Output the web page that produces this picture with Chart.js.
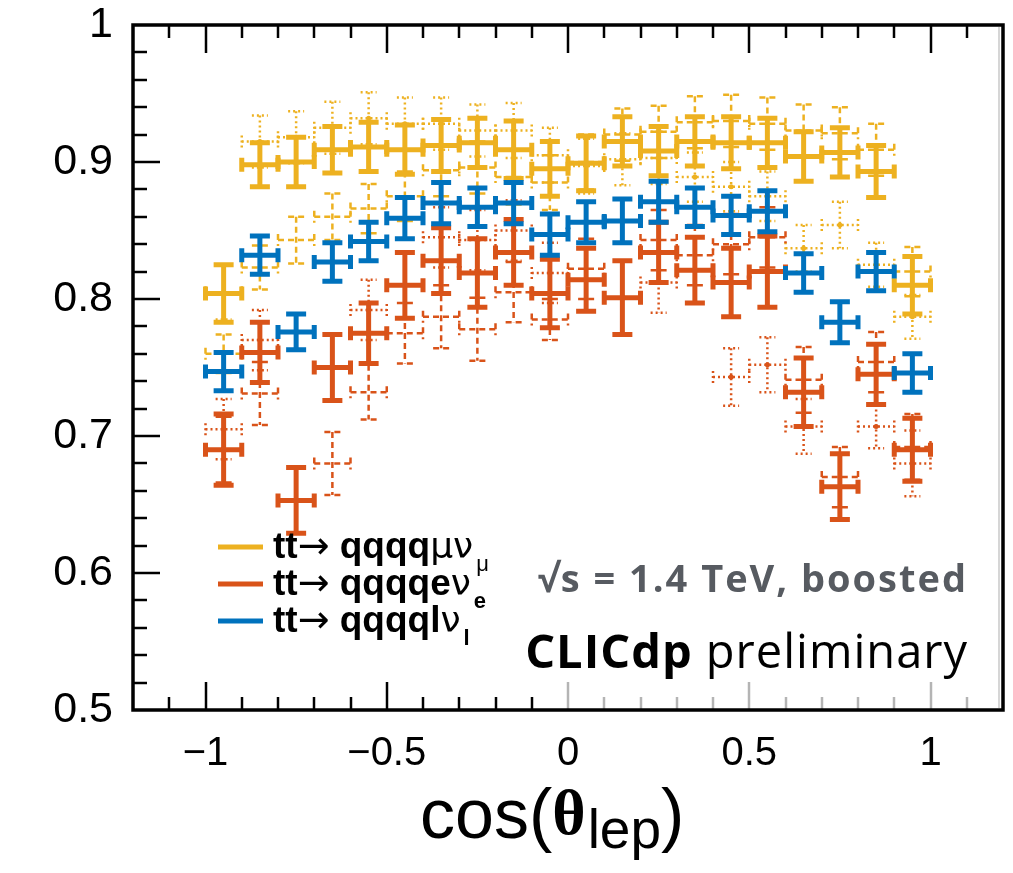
<!DOCTYPE html>
<html>
<head>
<meta charset="utf-8">
<script src="https://cdn.jsdelivr.net/npm/chart.js@4.4.1/dist/chart.umd.min.js"></script>
<style>
  html, body { margin: 0; padding: 0; background: #fff; }
  #wrap { width: 1013px; height: 873px; }
</style>
</head>
<body>
<div id="wrap"><canvas id="myChart" width="1013" height="873"></canvas></div>
<script>
// cos(theta_lep) bins, 0.1 wide
const binCenters = [-0.95, -0.85, -0.75, -0.65, -0.55, -0.45, -0.35, -0.25, -0.15, -0.05,
                    0.05, 0.15, 0.25, 0.35, 0.45, 0.55, 0.65, 0.75, 0.85, 0.95];
const binHalfWidth = 0.05;

// tt -> qqqq mu nu (solid)
const muEff = [0.804, 0.898, 0.900, 0.909, 0.911, 0.909, 0.912, 0.914, 0.909, 0.895,
               0.899, 0.915, 0.908, 0.915, 0.914, 0.914, 0.904, 0.907, 0.893, 0.810];
const muErr = [0.021, 0.016, 0.018, 0.017, 0.018, 0.018, 0.019, 0.018, 0.021, 0.020,
               0.020, 0.018, 0.018, 0.018, 0.019, 0.018, 0.018, 0.018, 0.019, 0.021];

// tt -> qqqq e nu (solid)
const eEff = [0.690, 0.761, 0.653, 0.750, 0.775, 0.810, 0.828, 0.819, 0.834, 0.804,
              0.814, 0.801, 0.834, 0.821, 0.812, 0.820, 0.732, 0.663, 0.745, 0.690];
const eErr = [0.026, 0.022, 0.024, 0.024, 0.022, 0.024, 0.024, 0.025, 0.024, 0.025,
              0.023, 0.027, 0.022, 0.024, 0.025, 0.026, 0.025, 0.024, 0.022, 0.023];

// tt -> qqqq l nu (solid)
const lEff = [0.747, 0.832, 0.776, 0.827, 0.842, 0.859, 0.870, 0.867, 0.870, 0.847,
              0.856, 0.857, 0.871, 0.867, 0.861, 0.864, 0.819, 0.783, 0.820, 0.746];
const lErr = [0.014, 0.014, 0.013, 0.014, 0.014, 0.015, 0.015, 0.014, 0.015, 0.015,
              0.015, 0.016, 0.015, 0.014, 0.014, 0.015, 0.014, 0.015, 0.014, 0.014];

// split samples, dashed
const muDashEff = [0.760, 0.823, 0.843, 0.860, 0.866, 0.875, 0.894, 0.896, 0.889, 0.885,
                   0.900, 0.920, 0.922, 0.929, 0.930, 0.928, 0.923, 0.921, 0.909, 0.820];
const muDashErr = [0.014, 0.016, 0.017, 0.017, 0.018, 0.018, 0.019, 0.019, 0.020, 0.020,
                   0.020, 0.019, 0.019, 0.019, 0.019, 0.019, 0.019, 0.019, 0.019, 0.018];
const eDashEff = [0.690, 0.731, null, 0.680, 0.732, 0.775, 0.787, 0.778, 0.805, 0.785,
                  0.822, null, 0.843, 0.832, 0.840, 0.845, 0.741, 0.670, 0.754, 0.692];
const eDashErr = [0.024, 0.023, 0.023, 0.023, 0.020, 0.022, 0.023, 0.023, 0.022, 0.015,
                  0.022, 0.022, 0.022, 0.022, 0.022, 0.022, 0.024, 0.022, 0.022, 0.024];

// split samples, dotted
const muDotEff = [0.805, 0.915, 0.918, 0.925, 0.932, 0.928, 0.928, 0.923, 0.923, 0.905,
                  0.897, 0.902, 0.903, 0.889, 0.882, 0.875, 0.837, 0.854, 0.825, 0.787];
const muDotErr = [0.020, 0.019, 0.019, 0.019, 0.019, 0.019, 0.019, 0.019, 0.020, 0.020,
                  0.020, 0.019, 0.019, 0.018, 0.018, 0.018, 0.017, 0.017, 0.016, 0.016];
const eDotEff = [0.705, 0.770, null, null, 0.792, null, 0.845, 0.843, 0.850, 0.819,
                 null, null, 0.812, null, 0.743, 0.752, 0.707, null, 0.707, 0.680];
const eDotErr = [0.022, 0.022, 0.022, 0.022, 0.022, 0.022, 0.022, 0.022, 0.022, 0.022,
                 0.022, 0.022, 0.022, 0.022, 0.021, 0.020, 0.020, 0.020, 0.016, 0.024];

const yTickValues = [0.5, 0.6, 0.7, 0.8, 0.9, 1];
const xTickValues = [-1, -0.5, 0, 0.5, 1];

const colMu = "#EDB120";
const colE = "#D95319";
const colL = "#0072BD";

function points(vals, errs) {
  return binCenters
    .map((x, i) => ({ x: x, y: vals[i], err: errs[i] }))
    .filter((p) => p.y !== null);
}

function crossSet(label, vals, errs, color, style) {
  const solid = style === "solid";
  return {
    label: label,
    data: points(vals, errs),
    borderColor: color,
    backgroundColor: color,
    pointRadius: 0,
    showLine: false,
    crossWidth: solid ? 5 : 2.5,
    capWidth: solid ? 5 : 2.5,
    capHalf: solid ? 10 : 8,
    endCapHalf: solid ? 7 : 6,
    dash: style === "dash" ? [6, 4] : style === "dot" ? [2, 3] : [],
    centreDot: style === "dot",
  };
}

// error crosses: horizontal bar = bin width, vertical bar = stat. error
const errorCrosses = {
  id: "errorCrosses",
  afterDatasetsDraw(chart) {
    const ctx = chart.ctx;
    const xs = chart.scales.x;
    const ys = chart.scales.y;
    const a = chart.chartArea;
    ctx.save();
    ctx.beginPath();
    ctx.rect(a.left, a.top, a.right - a.left, a.bottom - a.top);
    ctx.clip();
    chart.data.datasets.forEach((ds) => {
      ctx.strokeStyle = ds.borderColor;
      ctx.fillStyle = ds.borderColor;
      ctx.lineCap = "butt";
      ctx.setLineDash(ds.dash);
      ds.data.forEach((p) => {
        const cx = xs.getPixelForValue(p.x);
        const cy = ys.getPixelForValue(p.y);
        const xl = xs.getPixelForValue(p.x - binHalfWidth);
        const xr = xs.getPixelForValue(p.x + binHalfWidth);
        const yt = ys.getPixelForValue(p.y + p.err);
        const yb = ys.getPixelForValue(p.y - p.err);
        ctx.lineWidth = ds.crossWidth;
        ctx.beginPath();
        ctx.moveTo(xl, cy);
        ctx.lineTo(xr, cy);
        ctx.moveTo(cx, yt);
        ctx.lineTo(cx, yb);
        ctx.stroke();
        ctx.lineWidth = ds.capWidth;
        ctx.beginPath();
        ctx.moveTo(cx - ds.capHalf, yt);
        ctx.lineTo(cx + ds.capHalf, yt);
        ctx.moveTo(cx - ds.capHalf, yb);
        ctx.lineTo(cx + ds.capHalf, yb);
        ctx.moveTo(xl, cy - ds.endCapHalf);
        ctx.lineTo(xl, cy + ds.endCapHalf);
        ctx.moveTo(xr, cy - ds.endCapHalf);
        ctx.lineTo(xr, cy + ds.endCapHalf);
        ctx.stroke();
        if (ds.centreDot) {
          ctx.beginPath();
          ctx.arc(cx, cy, 2.5, 0, Math.PI * 2);
          ctx.fill();
        }
      });
    });
    ctx.restore();
  },
};

// box, inward ticks, legend, labels
const decorations = {
  id: "decorations",
  afterDraw(chart) {
    const ctx = chart.ctx;
    const xs = chart.scales.x;
    const ys = chart.scales.y;
    const a = chart.chartArea;
    ctx.save();
    ctx.setLineDash([]);
    ctx.lineCap = "butt";

    // y ticks, left side only
    ctx.strokeStyle = "#000";
    ctx.lineWidth = 2.5;
    for (let k = 1; k < 25; k++) {
      const v = 0.5 + k * 0.02;
      const py = Math.round(ys.getPixelForValue(v));
      const len = k % 5 === 0 ? 27 : 14;
      ctx.beginPath();
      ctx.moveTo(a.left, py);
      ctx.lineTo(a.left + len, py);
      ctx.stroke();
    }
    // x ticks, top and bottom
    for (let k = -11; k <= 11; k++) {
      const v = k / 10;
      const px = Math.round(xs.getPixelForValue(v));
      const len = k % 5 === 0 ? 28 : 13;
      ctx.strokeStyle = "#000";
      ctx.beginPath();
      ctx.moveTo(px, a.top);
      ctx.lineTo(px, a.top + len);
      ctx.stroke();
      ctx.strokeStyle = k >= 0 ? "#b4b4b4" : "#000";
      ctx.beginPath();
      ctx.moveTo(px, a.bottom);
      ctx.lineTo(px, a.bottom - len);
      ctx.stroke();
    }
    // frame
    ctx.strokeStyle = "#c8c8c8";
    ctx.lineWidth = 1.5;
    ctx.beginPath();
    ctx.moveTo(a.right - 4, a.top + 2);
    ctx.lineTo(a.right - 4, a.bottom - 2);
    ctx.stroke();
    ctx.strokeStyle = "#000";
    ctx.lineWidth = 3.5;
    ctx.strokeRect(a.left, a.top, a.right - a.left, a.bottom - a.top);

    // x axis title: cos(theta_lep)
    const tx = 420, tb = 838;
    ctx.fillStyle = "#000";
    ctx.textBaseline = "alphabetic";
    ctx.textAlign = "left";
    let x = tx;
    ctx.font = "70px 'Liberation Sans', sans-serif";
    ctx.fillText("cos(", x, tb);
    x += ctx.measureText("cos(").width;
    ctx.font = "bold 64px 'Liberation Serif', serif";
    ctx.fillText("θ", x, tb - 4);
    x += ctx.measureText("θ").width + 2;
    ctx.font = "55px 'Liberation Sans', sans-serif";
    ctx.fillText("lep", x, tb + 10);
    x += ctx.measureText("lep").width;
    ctx.font = "70px 'Liberation Sans', sans-serif";
    ctx.fillText(")", x, tb);

    // legend
    const rows = [
      { color: colMu, y: 547, lep: "", nu: "μν", sub: "μ", subBold: false },
      { color: colE, y: 584, lep: "e", nu: "ν", sub: "e", subBold: true },
      { color: colL, y: 621, lep: "l", nu: "ν", sub: "l", subBold: true },
    ];
    rows.forEach((r) => {
      ctx.strokeStyle = r.color;
      ctx.lineWidth = 5;
      ctx.beginPath();
      ctx.moveTo(218, r.y);
      ctx.lineTo(263, r.y);
      ctx.stroke();
      const base = r.y + 11;
      let lx = 273;
      const parts = [
        ["tt", "bold 37px 'Liberation Sans', Arial, sans-serif"],
        ["→", "38px 'DejaVu Sans', sans-serif"],
        [" qqqq" + r.lep, "bold 37px 'Liberation Sans', Arial, sans-serif"],
        [r.nu, "36px 'DejaVu Sans', sans-serif"],
      ];
      ctx.fillStyle = "#000";
      parts.forEach(([t, f]) => {
        ctx.font = f;
        ctx.fillText(t, lx, base);
        lx += ctx.measureText(t).width;
      });
      ctx.font = (r.subBold ? "bold " : "") + "22px 'Liberation Sans', Arial, sans-serif";
      ctx.fillText(r.sub, lx + 3, base + 13);
    });

    // energy / status labels
    ctx.textAlign = "right";
    ctx.fillStyle = "#575b61";
    ctx.letterSpacing = "2px";
    ctx.font = "bold 38px 'Open Sans', Lato, sans-serif";
    ctx.fillText("√s = 1.4 TeV, boosted", 968, 592);
    ctx.fillStyle = "#000";
    ctx.letterSpacing = "1px";
    ctx.font = "47px 'Open Sans', Lato, sans-serif";
    const prelim = " preliminary";
    ctx.fillText(prelim, 968, 668);
    const pw = ctx.measureText(prelim).width;
    ctx.font = "bold 47px 'Open Sans', Lato, sans-serif";
    ctx.fillText("CLICdp", 968 - pw, 668);
    ctx.letterSpacing = "0px";
    ctx.restore();
  },
};

function initChart(target) {
  const data = {
    datasets: [
      crossSet("μ dashed", muDashEff, muDashErr, colMu, "dash"),
      crossSet("μ dotted", muDotEff, muDotErr, colMu, "dot"),
      crossSet("e dashed", eDashEff, eDashErr, colE, "dash"),
      crossSet("e dotted", eDotEff, eDotErr, colE, "dot"),
      crossSet("tt→qqqqμν", muEff, muErr, colMu, "solid"),
      crossSet("tt→qqqqeν", eEff, eErr, colE, "solid"),
      crossSet("tt→qqqqlν", lEff, lErr, colL, "solid"),
    ],
  };

  const config = {
    type: "scatter",
    data: data,
    options: {
      responsive: false,
      animation: false,
      devicePixelRatio: 1,
      layout: { padding: { top: 25, right: 10, left: 0, bottom: 0 } },
      plugins: { legend: { display: false }, tooltip: { enabled: false } },
      scales: {
        x: {
          type: "linear",
          min: -1.2,
          max: 1.2,
          afterBuildTicks: (scale) => {
            scale.ticks = xTickValues.map((v) => ({ value: v }));
          },
          afterFit: (scale) => {
            scale.height = 163;
            scale.paddingLeft = 0;
            scale.paddingRight = 0;
          },
          grid: { display: false, drawTicks: false },
          border: { display: false },
          ticks: {
            padding: 20,
            color: "#000",
            font: { family: "'Liberation Sans', sans-serif", size: 40 },
            callback: (v) => (v < 0 ? "−" + String(-v) : String(v)),
          },
        },
        y: {
          min: 0.5,
          max: 1,
          afterBuildTicks: (scale) => {
            scale.ticks = yTickValues.map((v) => ({ value: v }));
          },
          afterFit: (scale) => {
            scale.width = 133;
            scale.paddingTop = 0;
            scale.paddingBottom = 0;
          },
          grid: { display: false, drawTicks: false },
          border: { display: false },
          ticks: {
            padding: 20,
            color: "#000",
            font: { family: "'Liberation Sans', Arial, sans-serif", size: 43 },
            callback: (v) => String(Number(v.toFixed(1))),
          },
        },
      },
    },
    plugins: [errorCrosses, decorations],
  };

  return new Chart(target, config);
}

document.addEventListener("DOMContentLoaded", () => {
  initChart(document.querySelector("#myChart"));
});
</script>
</body>
</html>
